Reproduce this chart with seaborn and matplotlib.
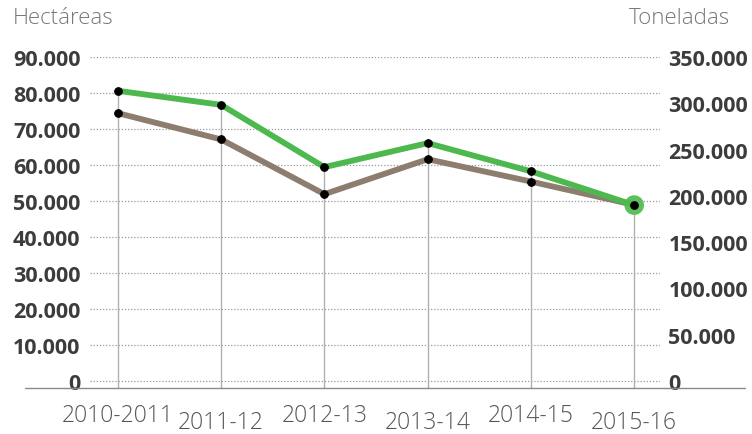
import numpy as np
import pandas as pd
import matplotlib
matplotlib.use("Agg")
import matplotlib.pyplot as plt
from matplotlib.lines import Line2D
from matplotlib.ticker import FuncFormatter
import seaborn as sns

categories = ["2010-2011", "2011-12", "2012-13", "2013-14", "2014-15", "2015-16"]
hectareas = [74400, 67100, 51900, 61600, 55400, 48900]
toneladas = [313500, 298300, 231000, 257000, 226500, 190000]
left_ticks = [0, 10000, 20000, 30000, 40000, 50000, 60000, 70000, 80000, 90000]
right_ticks = [0, 50000, 100000, 150000, 200000, 250000, 300000, 350000]

sns.set_theme(style="white")
plt.rcParams["font.family"] = ["Open Sans", "DejaVu Sans"]

df = pd.DataFrame({"x": np.arange(len(categories)), "ha": hectareas, "t": toneladas})

fig = plt.figure(figsize=(7.52, 4.35), dpi=100)
ax = fig.add_axes([90 / 752, 46 / 435, 570 / 752, 331 / 435])
ax2 = ax.twinx()

lmax, rmax = 90000, 350000
ybot = -1944
ax.set_ylim(ybot, lmax)
ax2.set_ylim(ybot * rmax / lmax, rmax)
ax.set_xlim(-0.27, 5.25)

# gridlines
for v in left_ticks:
    ax.axhline(v, color="#9a9a9a", lw=0.9, ls=(0, (1, 1.5)), zorder=0)

# vertical drop lines
tops = [max(h, t * lmax / rmax) for h, t in zip(hectareas, toneladas)]
ax.vlines(df["x"], ybot, tops, color="#b0b0b0", lw=1.0, zorder=1)

brown = "#8c7d6e"
green = "#4db84d"
sns.lineplot(data=df, x="x", y="ha", ax=ax, color=brown, lw=4.2, marker="o",
             markersize=5.5, markerfacecolor="black", markeredgecolor="black",
             zorder=3, clip_on=False)
ax2.scatter([df["x"].iloc[-1]], [toneladas[-1]], s=200, color="#5cc05c", zorder=4,
            clip_on=False, edgecolor="none")
sns.lineplot(data=df, x="x", y="t", ax=ax2, color=green, lw=4.2, marker="o",
             markersize=5.5, markerfacecolor="black", markeredgecolor="black",
             zorder=5, clip_on=False)

fmt = FuncFormatter(lambda v, p: f"{int(round(v)):,}".replace(",", "."))
ax.set_yticks(left_ticks)
ax2.set_yticks(right_ticks)
ax.yaxis.set_major_formatter(fmt)
ax2.yaxis.set_major_formatter(fmt)
ax.set_xticks(df["x"])
ax.set_xticklabels(categories)

for a in (ax, ax2):
    for s in a.spines.values():
        s.set_visible(False)
    a.set_xlabel("")
    a.set_ylabel("")
    a.grid(False)
    a.tick_params(length=0)

ax.tick_params(axis="y", labelsize=15.5, labelcolor="#3c3c3c", pad=7)
ax2.tick_params(axis="y", labelsize=15.5, labelcolor="#3c3c3c", pad=6)
for lab in ax.get_yticklabels() + ax2.get_yticklabels():
    lab.set_fontweight("bold")

ax.tick_params(axis="x", labelsize=16.5, labelcolor="#555555", pad=11)
for lab in ax.get_xticklabels():
    lab.set_fontweight("light")
for tick in ax.xaxis.get_major_ticks()[1::2]:
    tick.set_pad(16)

# baseline axis line
fig.add_artist(Line2D([25 / 752, 745 / 752], [46 / 435, 46 / 435], color="#8a8a8a", lw=1.0))

fig.text(13 / 752, 1 - 18 / 435, "Hectáreas", fontsize=16, color="#777777",
         ha="left", va="center", fontweight="light")
fig.text(730 / 752, 1 - 18 / 435, "Toneladas", fontsize=16, color="#777777",
         ha="right", va="center", fontweight="light")

fig.patch.set_facecolor("white")
fig.savefig("out.png", dpi=100, facecolor="white")
